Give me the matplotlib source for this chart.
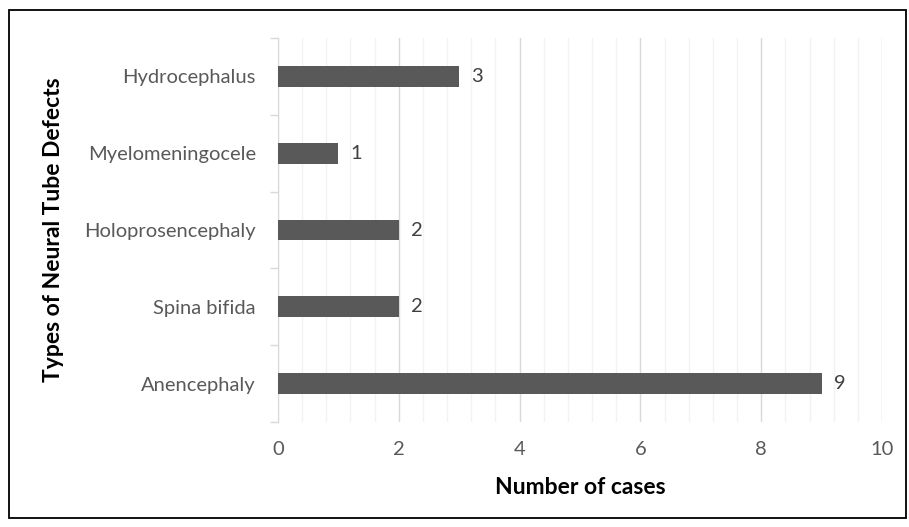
import matplotlib
matplotlib.use("Agg")
import matplotlib.pyplot as plt
from matplotlib.patches import Rectangle
import numpy as np

categories = ["Anencephaly", "Spina bifida", "Holoprosencephaly", "Myelomeningocele", "Hydrocephalus"]
values = [9, 2, 2, 1, 3]
xticks = [0, 2, 4, 6, 8, 10]

plt.rcParams['font.family'] = ['Lato', 'DejaVu Sans']
W, H = 909, 527
fig = plt.figure(figsize=(W/100, H/100), dpi=100)
ax = fig.add_axes([278/W, 1-422/H, (882-278)/W, (422-38)/H])

fs = 14.5
y = np.arange(len(categories))
ax.barh(y, values, height=0.27, color='#595959', zorder=3)
for yi, v in zip(y, values):
    ax.text(v + 0.2, yi, str(v), va='center', ha='left', fontsize=fs, color='#404040')

ax.set_xlim(0, 10)
ax.set_ylim(-0.5, len(categories)-0.5)
ax.set_xticks(xticks)
ax.set_xticklabels([str(t) for t in xticks], fontsize=fs, color='#595959')
ax.set_xticks(np.arange(0, 10.01, 0.4), minor=True)
ax.grid(axis='x', which='major', color='#d9d9d9', lw=1, zorder=0)
ax.grid(axis='x', which='minor', color='#f2f2f2', lw=1, zorder=0)
ax.tick_params(axis='x', which='both', length=0, pad=14)

ax.set_yticks(np.arange(-0.5, len(categories), 1.0))
ax.set_yticklabels([])
ax.set_yticks(y, minor=True)
ax.set_yticklabels(categories, minor=True, fontsize=fs, color='#595959')
ax.tick_params(axis='y', which='major', length=6, color='#d9d9d9', width=1)
ax.tick_params(axis='y', which='minor', length=0, pad=16)

for s in ['top', 'right', 'bottom']:
    ax.spines[s].set_visible(False)
ax.spines['left'].set_color('#d9d9d9')

fig.text(580/W, 1-487/H, "Number of cases", fontsize=16.5, fontweight='bold', color='black',
         ha='center', va='center')
fig.text(54/W, 1-230/H, "Types of Neural Tube Defects", fontsize=16.5, fontweight='bold', color='black',
         ha='center', va='center', rotation=90)

fig.patches.append(Rectangle((9/W, 1-518/H), (906-9)/W, (518-10)/H, transform=fig.transFigure,
                             fill=False, edgecolor='black', lw=1.3))

fig.savefig("out.png", dpi=100)
